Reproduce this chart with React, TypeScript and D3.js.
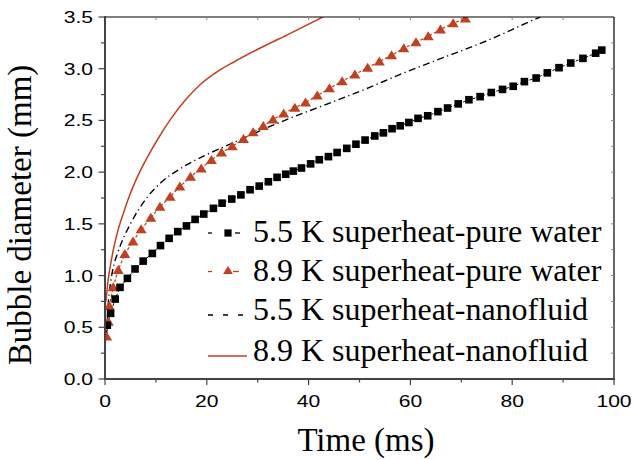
import React from "react";
import * as d3 from "d3";

// ---- Data (time in ms, diameter in mm) ----
const sqT = [0.45, 1.1, 2.0, 2.95, 4.4, 5.9, 7.5, 9.3, 10.9, 12.6, 14.3, 16.0, 17.7, 19.4, 21.3, 23.0, 24.9, 26.7, 28.5, 30.3, 32.1, 33.8, 35.5, 37.0, 38.6, 40.4, 42.1, 43.9, 45.6, 47.5, 49.3, 51.1, 53.0, 54.7, 56.4, 58.0, 59.7, 61.5, 63.4, 65.4, 67.3, 69.4, 71.5, 73.7, 75.9, 78.1, 80.2, 82.4, 84.7, 86.9, 89.2, 91.5, 93.9, 96.4, 97.6];
const sqV = [0.52, 0.635, 0.773, 0.886, 0.973, 1.064, 1.14, 1.214, 1.29, 1.36, 1.425, 1.48, 1.543, 1.595, 1.65, 1.70, 1.74, 1.78, 1.83, 1.865, 1.907, 1.95, 1.98, 2.01, 2.04, 2.08, 2.12, 2.15, 2.19, 2.23, 2.27, 2.31, 2.35, 2.38, 2.42, 2.448, 2.48, 2.52, 2.545, 2.585, 2.62, 2.66, 2.70, 2.73, 2.77, 2.80, 2.83, 2.875, 2.91, 2.96, 3.01, 3.055, 3.10, 3.15, 3.18];

const triT = [0.33, 0.65, 0.85, 1.6, 2.6, 3.9, 5.5, 7.1, 9.0, 10.8, 12.8, 14.7, 16.8, 18.9, 20.9, 22.9, 25.0, 27.2, 29.1, 31.1, 33.0, 35.1, 37.3, 39.4, 41.7, 44.1, 46.6, 49.1, 51.6, 53.9, 56.3, 58.7, 61.1, 63.5, 65.9, 68.4, 70.8];
const triV = [0.41, 0.554, 0.706, 0.886, 1.054, 1.209, 1.33, 1.447, 1.56, 1.666, 1.762, 1.86, 1.956, 2.036, 2.117, 2.19, 2.25, 2.32, 2.385, 2.446, 2.51, 2.568, 2.622, 2.674, 2.74, 2.81, 2.88, 2.945, 3.01, 3.07, 3.13, 3.197, 3.255, 3.313, 3.38, 3.44, 3.486];

const nf55T = [0.3, 0.6, 1.0, 1.5, 2.5, 3.6, 5.0, 6.5, 8.5, 11.0, 15.0, 20.0, 25.0, 30.0, 36.3, 44.8, 52.0, 58.0, 65.0, 75.0, 84.1, 85.5];
const nf55V = [0.41, 0.7, 0.9, 1.05, 1.22, 1.36, 1.5, 1.63, 1.77, 1.9, 2.04, 2.17, 2.28, 2.39, 2.52, 2.68, 2.82, 2.945, 3.08, 3.27, 3.47, 3.5];

const nf89T = [0.2, 0.6, 1.0, 1.6, 2.5, 3.6, 4.5, 5.6, 7.0, 8.5, 10.5, 13.0, 16.0, 19.0, 22.0, 25.5, 30.5, 36.3, 42.8];
const nf89V = [0.75, 0.95, 1.08, 1.24, 1.43, 1.6, 1.73, 1.87, 2.02, 2.16, 2.33, 2.52, 2.71, 2.86, 2.97, 3.07, 3.2, 3.34, 3.5];

const xTicks = [0, 20, 40, 60, 80, 100];
const yTicks = [0.0, 0.5, 1.0, 1.5, 2.0, 2.5, 3.0, 3.5];
const legendLabels = [
  "5.5 K superheat-pure water",
  "8.9 K superheat-pure water",
  "5.5 K superheat-nanofluid",
  "8.9 K superheat-nanofluid",
];

const RED = "#c0401f";
const SERIF = "Liberation Serif, Times New Roman, DejaVu Serif, serif";
const SANS = "Liberation Sans, Arial, sans-serif";

const L = 105, R = 614, T = 17, B = 379;

export default function App() {
  const x = d3.scaleLinear().domain([0, 100]).range([L, R]);
  const y = d3.scaleLinear().domain([0, 3.5]).range([B, T]);

  const zip = (a: number[], b: number[]) => a.map((t, i) => [t, b[i]] as [number, number]);
  const sq = zip(sqT, sqV);
  const tri = zip(triT, triV);
  const n55 = zip(nf55T, nf55V);
  const n89 = zip(nf89T, nf89V);

  const lineLin = d3.line<[number, number]>().x(d => x(d[0])).y(d => y(d[1]));
  const lineSmooth = d3.line<[number, number]>().x(d => x(d[0])).y(d => y(d[1])).curve(d3.curveMonotoneX);

  const triPath = (cx: number, cy: number, s = 10) =>
    `M${cx},${cy - s * 0.5}L${cx + s * 0.55},${cy + s * 0.4}L${cx - s * 0.55},${cy + s * 0.4}Z`;

  const minorX = d3.range(10, 100, 20);
  const minorY = d3.range(0.25, 3.5, 0.5);
  const topTicks = d3.range(10, 100, 10);
  const rightTicks = d3.range(0.25, 3.5, 0.25);

  const legX0 = 208, legX1 = 247, legMark = 228, textX = 253;
  const rowBase = [242, 281, 320, 360.5];
  const rowLine = [233, 271.5, 315, 356];

  const serifStyle = { fontFamily: SERIF };
  const sansStyle = { fontFamily: SANS };

  return (
    <svg width={633} height={460} style={{ position: "absolute", left: 0, top: 0, background: "#fff" }}>
      <defs>
        <clipPath id="plotclip">
          <rect x={L} y={T} width={R - L} height={B - T} />
        </clipPath>
      </defs>
      <rect x={0} y={0} width={633} height={460} fill="#fff" />

      {/* data */}
      <g clipPath="url(#plotclip)">
        <path d={lineSmooth(n89) || ""} fill="none" stroke={RED} strokeWidth={1.5} />
        <path d={lineSmooth(n55) || ""} fill="none" stroke="#000" strokeWidth={1.4} strokeDasharray="7,3.5,1.2,3.5" />
        <path d={lineLin(tri) || ""} fill="none" stroke={RED} strokeWidth={1.2} strokeDasharray="3,2" />
        <path d={lineLin(sq) || ""} fill="none" stroke="#000" strokeWidth={1} strokeDasharray="3,2" />
        {tri.map((d, i) => (
          <path key={"t" + i} d={triPath(x(d[0]), y(d[1]))} fill={RED} />
        ))}
        {sq.map((d, i) => (
          <rect key={"s" + i} x={x(d[0]) - 3.8} y={y(d[1]) - 3.8} width={7.6} height={7.6} fill="#000" />
        ))}
      </g>

      {/* frame */}
      <line x1={L} x2={R} y1={T} y2={T} stroke="#000" strokeWidth={1.2} />
      <line x1={R} x2={R} y1={T} y2={B} stroke="#000" strokeWidth={1.2} />
      {topTicks.map(t => (
        <line key={"tt" + t} x1={x(t)} x2={x(t)} y1={T} y2={T + 3} stroke="#888" strokeWidth={1} />
      ))}
      {rightTicks.map(v => (
        <line key={"rt" + v} x1={R - 3} x2={R} y1={y(v)} y2={y(v)} stroke="#888" strokeWidth={1} />
      ))}

      {/* bottom axis */}
      <line x1={L - 1} x2={R + 1} y1={B} y2={B} stroke="#444" strokeWidth={2} />
      {xTicks.map(t => (
        <line key={"xt" + t} x1={x(t)} x2={x(t)} y1={B} y2={B + 6} stroke="#444" strokeWidth={1.2} />
      ))}
      {minorX.map(t => (
        <line key={"xm" + t} x1={x(t)} x2={x(t)} y1={B} y2={B + 3.5} stroke="#444" strokeWidth={1.2} />
      ))}
      {xTicks.map(t => (
        <text key={"xl" + t} transform={`translate(${x(t)},${407}) scale(1.28,1)`} textAnchor="middle"
          style={sansStyle} fontSize={16.5} fill="#000">{String(t)}</text>
      ))}

      {/* left axis */}
      <line x1={L} x2={L} y1={T - 1} y2={B + 1} stroke="#444" strokeWidth={2} />
      {yTicks.map(v => (
        <line key={"yt" + v} x1={L - 6.5} x2={L} y1={y(v)} y2={y(v)} stroke="#444" strokeWidth={1.2} />
      ))}
      {minorY.map(v => (
        <line key={"ym" + v} x1={L - 4} x2={L} y1={y(v)} y2={y(v)} stroke="#444" strokeWidth={1.2} />
      ))}
      {yTicks.map(v => (
        <text key={"yl" + v} transform={`translate(${93},${y(v) + 6}) scale(1.28,1)`} textAnchor="end"
          style={sansStyle} fontSize={16.5} fill="#000">{v.toFixed(1)}</text>
      ))}

      {/* axis titles */}
      <text x={366} y={451} textAnchor="middle" style={serifStyle} fontSize={33} fill="#000">Time (ms)</text>
      <text transform={`translate(31,215) rotate(-90)`} textAnchor="middle" style={serifStyle} fontSize={33} fill="#000">
        Bubble diameter (mm)
      </text>

      {/* legend */}
      <g>
        <line x1={legX0} x2={legX0 + 4} y1={rowLine[0]} y2={rowLine[0]} stroke="#000" strokeWidth={1.3} />
        <line x1={legX0 + 27} x2={legX0 + 32} y1={rowLine[0]} y2={rowLine[0]} stroke="#000" strokeWidth={1.3} />
        <rect x={legMark - 3.6} y={rowLine[0] - 3.6} width={7.2} height={7.2} fill="#000" />
        <line x1={legX0} x2={legX0 + 4} y1={rowLine[1]} y2={rowLine[1]} stroke={RED} strokeWidth={1.3} />
        <line x1={legX0 + 25} x2={legX0 + 31} y1={rowLine[1]} y2={rowLine[1]} stroke={RED} strokeWidth={1.3} />
        <path d={triPath(legMark, rowLine[1] - 1, 9)} fill={RED} />
        <line x1={legX0} x2={legX1} y1={rowLine[2]} y2={rowLine[2]} stroke="#000" strokeWidth={1.3} strokeDasharray="5,10" />
        <line x1={legX0} x2={legX1} y1={rowLine[3]} y2={rowLine[3]} stroke={RED} strokeWidth={1.5} />
        {legendLabels.map((s, i) => (
          <text key={"lg" + i} x={textX} y={rowBase[i]} style={serifStyle} fontSize={32} fill="#000">{s}</text>
        ))}
      </g>
    </svg>
  );
}
